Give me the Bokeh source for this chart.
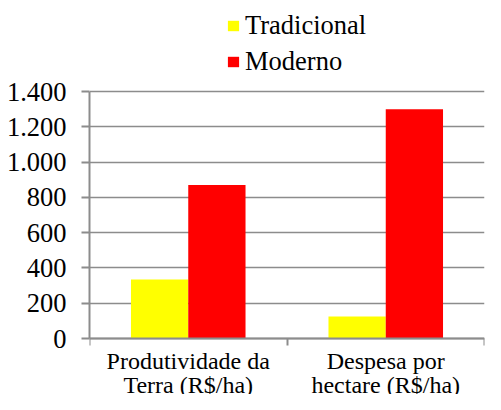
from bokeh.plotting import figure
from bokeh.models import Range1d, FixedTicker, Legend, LegendItem, ColumnDataSource
from bokeh.transform import dodge
from bokeh.embed import file_html
from bokeh.resources import INLINE
import numpy as np

categories = ["Produtividade da\nTerra (R$/ha)", "Despesa por\nhectare (R$/ha)"]
series_names = ["Tradicional", "Moderno"]
tradicional = [335, 125]
moderno = [870, 1300]
y_ticks = [0, 200, 400, 600, 800, 1000, 1200, 1400]
colors = ["#FFFF00", "#FF0000"]

FONT = "Liberation Serif"
FS = "26.5px"
FS_X = "24px"
GRAY = "#8c8c8c"
Y_VIEW = (-317, 1916)  # visible span: room below for labels, above for legend

centers = np.arange(len(categories)) + 0.5
src = ColumnDataSource(dict(x=centers, trad=tradicional, mod=moderno))

p = figure(width=485, height=394, output_backend="svg", toolbar_location=None,
           x_range=Range1d(0, len(categories)), y_range=Range1d(*Y_VIEW),
           min_border_left=89, min_border_right=1, min_border_top=0, min_border_bottom=0)
p.outline_line_color = None

bw = 0.29
r1 = p.vbar(x=dodge('x', -bw / 2), top='trad', width=bw, source=src,
            fill_color=colors[0], line_color=None)
r2 = p.vbar(x=dodge('x', bw / 2), top='mod', width=bw, source=src,
            fill_color=colors[1], line_color=None)

# x axis, fixed at y = 0
xa = p.xaxis[0]
xa.fixed_location = 0
xa.ticker = FixedTicker(ticks=list(centers), minor_ticks=list(range(len(categories) + 1)))
xa.major_label_overrides = {float(c): cat for c, cat in zip(centers, categories)}
xa.major_tick_line_color = None
xa.major_tick_in = 0
xa.major_tick_out = 0
xa.minor_tick_in = 0
xa.minor_tick_out = 7
xa.minor_tick_line_color = GRAY
xa.minor_tick_line_width = 2
xa.axis_line_color = GRAY
xa.axis_line_width = 2
xa.major_label_text_font = FONT
xa.major_label_text_font_size = FS_X
xa.major_label_text_color = "black"
xa.major_label_text_line_height = 0.95
xa.major_label_standoff = 2
p.xgrid.visible = False

# y axis
ya = p.yaxis[0]
ya.ticker = FixedTicker(ticks=y_ticks)
ya.bounds = (y_ticks[0], y_ticks[-1])
ya.major_label_overrides = {v: f"{v:,}".replace(",", ".") for v in y_ticks}
ya.minor_tick_line_color = None
ya.major_tick_in = 0
ya.major_tick_out = 8
ya.major_tick_line_color = GRAY
ya.major_tick_line_width = 2
ya.axis_line_color = GRAY
ya.axis_line_width = 2
ya.major_label_text_font = FONT
ya.major_label_text_font_size = FS
ya.major_label_text_color = "black"
ya.major_label_standoff = 15
p.ygrid.ticker = FixedTicker(ticks=y_ticks)
p.ygrid.grid_line_color = GRAY
p.ygrid.grid_line_width = 1.5

legend = Legend(items=[LegendItem(label=series_names[0], renderers=[r1]),
                       LegendItem(label=series_names[1], renderers=[r2])],
                location=(137, 317), orientation="vertical")
legend.border_line_color = None
legend.background_fill_alpha = 0
legend.padding = 0
legend.margin = 0
legend.spacing = 5
legend.label_text_font = FONT
legend.label_text_font_size = FS
legend.label_text_color = "black"
legend.glyph_width = 14
legend.glyph_height = 13
legend.label_standoff = 5
legend.label_height = 30
p.add_layout(legend)

open("out.html", "w").write(file_html(p, INLINE))
